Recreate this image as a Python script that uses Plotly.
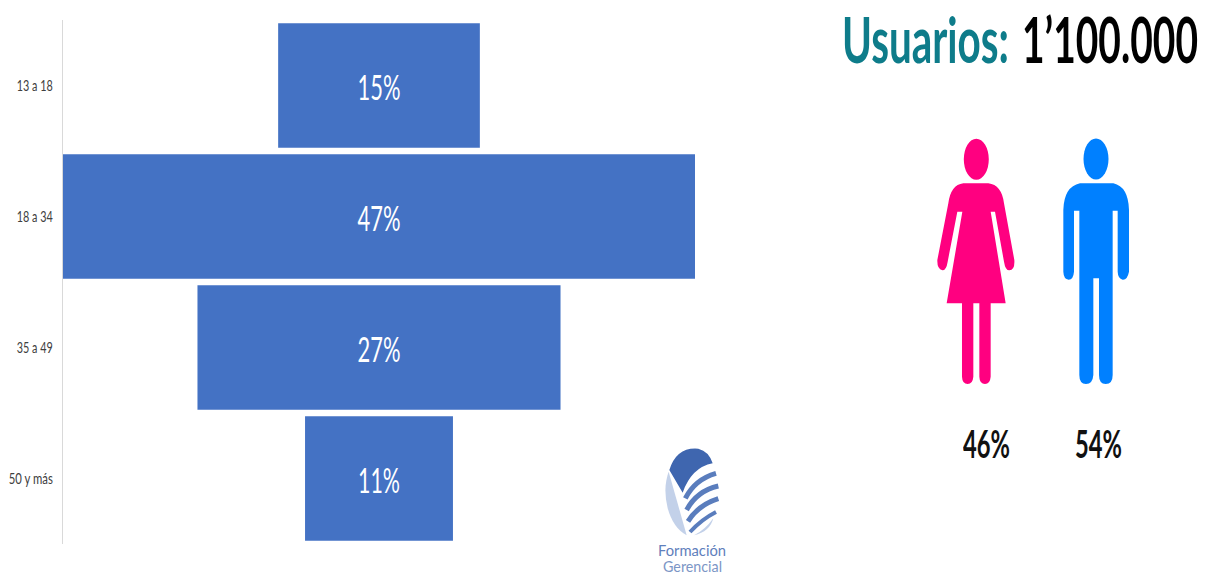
import json
import plotly.graph_objects as go

WIDTH, HEIGHT = 1211, 577
FONT = "Lato, Open Sans, sans-serif"

age_groups = ["13 a 18", "18 a 34", "35 a 49", "50 y más"]
age_share = [15, 47, 27, 11]
gender_labels = ["46%", "54%"]
BAR_BLUE = "#4472C4"

# Rendered widths in pixels: the lettering on this slide is tall and condensed
TEXT_WIDTHS = {
    "Usuarios:": 167, "1’100.000": 176,
    "46%": 47, "54%": 47,
    "15%": 43, "47%": 43, "27%": 43, "11%": 42,
    "13 a 18": 36, "18 a 34": 36, "35 a 49": 36, "50 y más": 44,
    "Formación": 68, "Gerencial": 59,
}


def fx(px):
    return px / WIDTH


def fy(py):
    return 1 - py / HEIGHT


def path(commands, ox, oy, k=1 / 3):
    """Turn (letter, x, y, ...) drawing commands into a paper-referenced SVG path."""
    parts = []
    for cmd in commands:
        letter, nums = cmd[0], cmd[1:]
        coords = []
        for i in range(0, len(nums), 2):
            coords.append(f"{fx(ox + nums[i] * k):.5f},{fy(oy + nums[i + 1] * k):.5f}")
        parts.append(letter + " " + " ".join(coords))
    return " ".join(parts)


def filled(commands, ox, oy, color):
    return dict(type="path", xref="paper", yref="paper", path=path(commands, ox, oy) + " Z",
                fillcolor=color, line=dict(width=0), layer="above")


def stroked(commands, ox, oy, color, width):
    return dict(type="path", xref="paper", yref="paper", path=path(commands, ox, oy),
                line=dict(color=color, width=width), layer="above")


def head(cx, cy, rx, ry, color):
    return dict(type="circle", xref="paper", yref="paper", x0=fx(cx - rx), x1=fx(cx + rx),
                y0=fy(cy + ry), y1=fy(cy - ry), fillcolor=color, line=dict(width=0), layer="above")


# Silhouettes, drawn in a local grid three times finer than the page
WOMAN = [("M", 430, 550), ("L", 505, 550), ("Q", 545, 555, 552, 610), ("L", 583, 780),
         ("Q", 585, 810, 568, 811), ("Q", 556, 811, 552, 785), ("L", 525, 635), ("L", 512, 635),
         ("L", 557, 910), ("L", 512, 910), ("L", 512, 1130), ("Q", 510, 1152, 495, 1152),
         ("Q", 479, 1152, 478, 1130), ("L", 478, 910), ("L", 460, 910), ("L", 460, 1130),
         ("Q", 458, 1152, 443, 1152), ("Q", 427, 1152, 426, 1130), ("L", 426, 910), ("L", 380, 910),
         ("L", 427, 635), ("L", 412, 635), ("L", 383, 785), ("Q", 379, 811, 367, 811),
         ("Q", 351, 808, 352, 780), ("L", 385, 610), ("Q", 392, 555, 430, 550)]
MAN = [("M", 780, 550), ("L", 880, 550), ("Q", 925, 560, 927, 630), ("L", 927, 815),
       ("Q", 922, 840, 908, 839), ("Q", 894, 836, 893, 815), ("L", 893, 632), ("L", 878, 632),
       ("L", 878, 1125), ("Q", 878, 1152, 857, 1152), ("Q", 837, 1152, 837, 1125), ("L", 837, 835),
       ("L", 820, 835), ("L", 820, 1125), ("Q", 818, 1152, 798, 1152), ("Q", 778, 1152, 778, 1125),
       ("L", 778, 632), ("L", 762, 632), ("L", 762, 815), ("Q", 760, 839, 746, 839),
       ("Q", 731, 838, 730, 815), ("L", 730, 630), ("Q", 732, 560, 780, 550)]

PINK, BLUE = "#FF0080", "#0080FF"
LOGO_DARK, LOGO_MID, LOGO_LIGHT = "#3F66AF", "#5A7DBD", "#C3D1E9"
LOGO_X, LOGO_Y = 630, 430

shapes = [
    head(976.3, 159.3, 12.5, 20.5, PINK),
    head(1096, 159, 12.5, 20.5, BLUE),
    filled(WOMAN, 820, 0, PINK),
    filled(MAN, 820, 0, BLUE),
    # Company mark: feather crescent, dark crown and curved bands
    filled([("M", 116, 125), ("Q", 98, 175, 113, 235), ("Q", 130, 295, 170, 316)], LOGO_X, LOGO_Y, LOGO_LIGHT),
    filled([("M", 118, 120), ("Q", 140, 50, 205, 56), ("Q", 237, 64, 248, 100),
            ("Q", 185, 112, 158, 188)], LOGO_X, LOGO_Y, LOGO_DARK),
    stroked([("M", 166, 205), ("Q", 195, 148, 258, 130)], LOGO_X, LOGO_Y, LOGO_MID, 5),
    stroked([("M", 170, 240), ("Q", 200, 183, 265, 168)], LOGO_X, LOGO_Y, LOGO_MID, 5),
    stroked([("M", 174, 274), ("Q", 205, 225, 265, 206)], LOGO_X, LOGO_Y, LOGO_MID, 5),
    stroked([("M", 180, 306), ("Q", 215, 268, 258, 246)], LOGO_X, LOGO_Y, LOGO_MID, 4),
    filled([("M", 192, 316), ("Q", 225, 300, 250, 265), ("Q", 240, 305, 192, 316)], LOGO_X, LOGO_Y, LOGO_LIGHT),
]


def note(text, x, y, size, color, weight="normal"):
    return dict(text=text, x=fx(x), y=fy(y), xref="paper", yref="paper", showarrow=False,
                xanchor="center", yanchor="middle", width=TEXT_WIDTHS[text], align="center",
                font=dict(family=FONT, size=size, color=color, weight=weight))


annotations = [
    note("Usuarios:", 925, 38, 64, "#0E7C8A", "bold"),
    note("1’100.000", 1110, 38, 64, "#000000", "bold"),
    note(gender_labels[0], 986, 443, 38, "#111111", "bold"),
    note(gender_labels[1], 1098, 443, 38, "#111111", "bold"),
    note("Formación", 692, 549, 16, "#5F80BC"),
    note("Gerencial", 692, 565, 16, "#7C96C6"),
]

fig = go.Figure(go.Bar(
    y=age_groups,
    x=age_share,
    base=[-v / 2 for v in age_share],
    orientation="h",
    width=0.95,
    marker=dict(color=BAR_BLUE, line=dict(width=0)),
    text=[f"{v}%" for v in age_share],
    textposition="inside",
    insidetextanchor="middle",
    textangle=0,
    textfont=dict(family=FONT, size=35, color="#FFFFFF"),
    hoverinfo="skip",
))

fig.update_layout(
    width=WIDTH,
    height=HEIGHT,
    margin=dict(l=0, r=0, t=0, b=0),
    paper_bgcolor="#FFFFFF",
    plot_bgcolor="#FFFFFF",
    showlegend=False,
    shapes=shapes,
    annotations=annotations,
    xaxis=dict(domain=[fx(63), fx(695)], range=[-23.5, 23.5], visible=False, fixedrange=True,
               automargin=False),
    yaxis=dict(domain=[fy(544), fy(20)], autorange="reversed", showline=True, linecolor="#D9D9D9",
               linewidth=1, ticks="", showgrid=False, zeroline=False, ticklabelstandoff=6,
               automargin=False,
               tickfont=dict(family=FONT, size=16, color="#404040"), fixedrange=True),
)

# Condense each label to its set width once the page has drawn it
condense = """
var widths = %s;
document.getElementById('{plot_id}').querySelectorAll('svg text').forEach(function (node) {
  var w = widths[node.textContent];
  if (w) {
    node.setAttribute('textLength', w);
    node.setAttribute('lengthAdjust', 'spacingAndGlyphs');
  }
});
""" % json.dumps(TEXT_WIDTHS, ensure_ascii=False)

fig.write_html("out.html", config=dict(displayModeBar=False), post_script=condense)
